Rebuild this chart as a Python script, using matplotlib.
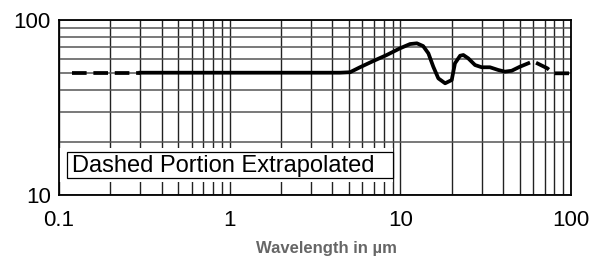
import numpy as np
import matplotlib
matplotlib.use("Agg")
from matplotlib import pyplot as plt
from matplotlib.ticker import NullFormatter, LogLocator
from matplotlib.patches import Rectangle

plt.rcParams['font.family'] = ['Liberation Sans', 'DejaVu Sans']

# values (wavelength in um, transmission %)
wl_dash_left = [0.119, 0.30]
tr_dash_left = [50, 50]

wl_solid = [0.30, 4.43, 5.07, 5.80, 6.94, 8.32, 9.95, 11.4, 12.5, 13.6, 14.6,
            15.6, 16.7, 18.3, 20.0, 20.9, 22.4, 23.4, 25.0, 27.4, 30.0, 33.5,
            37.5, 41.0, 44.9, 50.2, 56.2]
tr_solid = [50, 50, 50.3, 53.7, 58.3, 63.1, 68.9, 72.9, 73.6, 71.0, 64.5,
            54.1, 46.4, 43.5, 45.4, 56.6, 62.5, 63.1, 60.4, 55.3, 53.7, 53.7,
            51.8, 50.7, 51.3, 54.1, 56.6]

wl_dash_right = [62.4, 72.6, 79.0, 100]
tr_dash_right = [57.0, 53.0, 49.6, 49.6]

xticks = [0.1, 1, 10, 100]
xticklabels = ["0.1", "1", "10", "100"]
yticks = [10, 100]
yticklabels = ["10", "100"]

fig = plt.figure(figsize=(5.9, 2.57), dpi=100)
ax = fig.add_axes([0.1, 0.2412, 0.8678, 0.6809])
ax.set_xscale("log")
ax.set_yscale("log")
ax.set_xlim(0.1, 100)
ax.set_ylim(10, 100)

ax.xaxis.set_minor_locator(LogLocator(base=10, subs=np.arange(2, 10)))
ax.yaxis.set_minor_locator(LogLocator(base=10, subs=np.arange(2, 10)))
ax.xaxis.set_minor_formatter(NullFormatter())
ax.yaxis.set_minor_formatter(NullFormatter())
ax.set_xticks(xticks)
ax.set_xticklabels(xticklabels)
ax.set_yticks(yticks)
ax.set_yticklabels(yticklabels)
ax.tick_params(which="both", length=0)
ax.tick_params(axis="x", pad=11, labelsize=16)
ax.tick_params(axis="y", pad=6, labelsize=16)

ax.grid(True, which="both", axis="x", color="#222222", lw=1.0)
ax.grid(True, which="both", axis="y", color="#555555", lw=1.1)
ax.set_axisbelow(True)
for s in ax.spines.values():
    s.set_linewidth(1.3)
    s.set_color("black")
    s.set_zorder(6)

lw = 2.7
ax.plot(wl_dash_left, tr_dash_left, color="black", lw=lw, dashes=(3.9, 1.8), zorder=3)
ax.plot(wl_solid, tr_solid, color="black", lw=lw, solid_joinstyle="round", zorder=3)
ax.plot(wl_dash_right, tr_dash_right, color="black", lw=lw, dashes=(3.9, 1.8), zorder=3)

# note box: white margin, then black frame
ax.add_patch(Rectangle((0, 0.0743), 0.652, 0.1943, transform=ax.transAxes,
                       facecolor="white", edgecolor="none", zorder=4))
ax.add_patch(Rectangle((0.0156, 0.0971), 0.6364, 0.1486, transform=ax.transAxes,
                       facecolor="white", edgecolor="black", lw=0.9, zorder=5))
ax.text(0.0248, 0.166, "Dashed Portion Extrapolated", transform=ax.transAxes,
        ha="left", va="center", fontsize=17, zorder=6)

fig.text(0.554, 0.035, "Wavelength in µm", ha="center", va="center",
         fontsize=12, fontweight="bold", color="#666666")

fig.savefig("out.png", dpi=100)
